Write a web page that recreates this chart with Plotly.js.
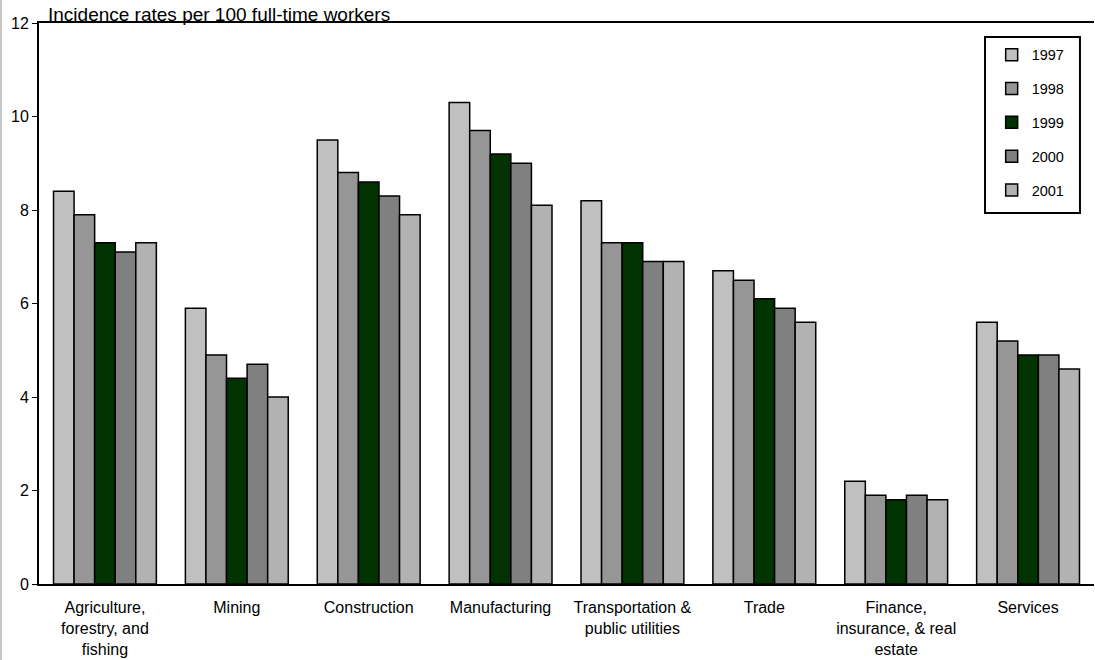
<!DOCTYPE html>
<html>
<head>
<meta charset="utf-8">
<script src="https://cdn.plot.ly/plotly-3.0.1.min.js"></script>
<style>
html,body{margin:0;padding:0;background:#fff;}
#chart{width:1095px;height:660px;box-sizing:border-box;border-left:2px solid #c8c8c8;}
</style>
</head>
<body>
<div id="chart"></div>
<script>
const categories = [
  "Agriculture,<br>forestry, and<br>fishing",
  "Mining",
  "Construction",
  "Manufacturing",
  "Transportation &<br>public utilities",
  "Trade",
  "Finance,<br>insurance, & real<br>estate",
  "Services"
];
const years = ["1997", "1998", "1999", "2000", "2001"];
const v1997 = [8.4, 5.9, 9.5, 10.3, 8.2, 6.7, 2.2, 5.6];
const v1998 = [7.9, 4.9, 8.8, 9.7, 7.3, 6.5, 1.9, 5.2];
const v1999 = [7.3, 4.4, 8.6, 9.2, 7.3, 6.1, 1.8, 4.9];
const v2000 = [7.1, 4.7, 8.3, 9.0, 6.9, 5.9, 1.9, 4.9];
const v2001 = [7.3, 4.0, 7.9, 8.1, 6.9, 5.6, 1.8, 4.6];
const colors = ["#C0C0C0", "#969696", "#003300", "#808080", "#B2B2B2"];
const series = [v1997, v1998, v1999, v2000, v2001];

const font = "'Liberation Sans', Arial, sans-serif";
const traces = series.map((vals, i) => ({
  type: "bar",
  name: years[i],
  x: categories,
  y: vals,
  legendgroup: "g" + i,
  marker: {color: colors[i], line: {color: "#000", width: 1.5}},
  hoverinfo: "y"
}));

const layout = {
  width: 1093, height: 660,
  margin: {l: 37, r: 1, t: 23, b: 76},
  paper_bgcolor: "#fff", plot_bgcolor: "#fff",
  font: {family: font, size: 16, color: "#000"},
  barmode: "group",
  bargap: 0.22,
  bargroupgap: 0,
  showlegend: true,
  legend: {
    x: 0.903, y: 0.972, xanchor: "left", yanchor: "top",
    borderwidth: 0, bgcolor: "rgba(0,0,0,0)",
    font: {family: font, size: 14.5, color: "#000"},
    traceorder: "grouped", tracegroupgap: 12,
    itemwidth: 30
  },
  xaxis: {
    showline: true, linecolor: "#000", linewidth: 2, mirror: true,
    ticks: "", showgrid: false, zeroline: false,
    tickfont: {family: font, size: 16, color: "#000"},
    ticklabelstandoff: 8,
    fixedrange: true
  },
  yaxis: {
    range: [0, 12], dtick: 2, tick0: 0,
    showline: true, linecolor: "#000", linewidth: 2,
    ticks: "outside", ticklen: 5, tickcolor: "#000", tickwidth: 1,
    showgrid: false, zeroline: false,
    tickfont: {family: font, size: 16, color: "#000"},
    fixedrange: true
  },
  shapes: [{
    type: "rect", xref: "paper", yref: "paper",
    x0: 0.8967, x1: 0.9867, y0: 0.6613, y1: 0.975,
    line: {color: "#000", width: 2}, fillcolor: "rgba(0,0,0,0)", layer: "above"
  }],
  annotations: [{
    text: "Incidence rates per 100 full-time workers",
    xref: "paper", yref: "paper", x: 0.007, y: 1.0, xanchor: "left", yanchor: "bottom",
    yshift: -4,
    showarrow: false, font: {family: font, size: 19, color: "#000"}
  }]
};

Plotly.newPlot("chart", traces, layout, {displayModeBar: false, staticPlot: true});
</script>
</body>
</html>
